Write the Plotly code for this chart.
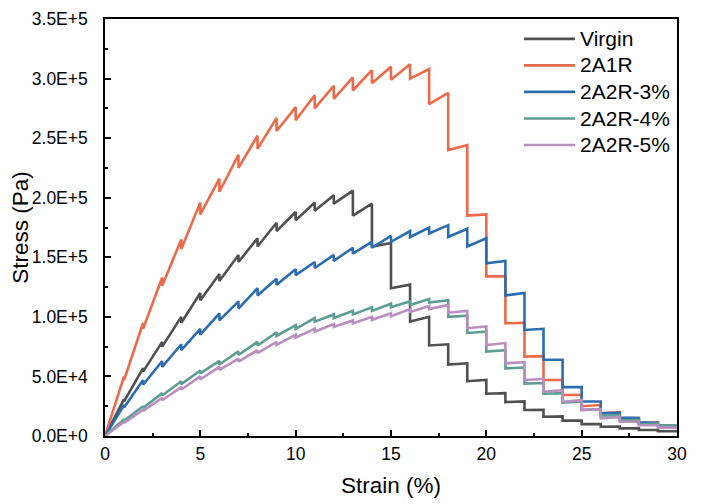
import plotly.graph_objects as go

# Strain steps (%)
strain_steps = list(range(0, 31))

# Stress (Pa): value at each step just before relaxation (peak) and after relaxation
virgin_peak = [0, 31000, 57000, 79000, 100000, 120000, 136000, 152000, 166000, 179000, 188000,
               196000, 202000, 206000, 195000, 162000, 127000, 100000, 77000, 61000, 47000,
               36000, 29000, 22000, 16500, 13000, 10000, 8000, 6500, 5000, 4000]
virgin_relax = [0, 29000, 54000, 75000, 95000, 114000, 130000, 146000, 159000, 172000, 181000,
                189000, 195000, 185000, 159000, 124000, 96000, 76000, 60000, 46000, 35500,
                28500, 21800, 16200, 12900, 10000, 7800, 6400, 5000, 4000, 3300]

r2a1r_peak = [0, 50000, 95000, 133000, 165000, 196000, 216000, 236000, 252000, 267000, 276000,
              286000, 294000, 301000, 307000, 310000, 312000, 308000, 288000, 244000, 186000,
              134000, 95000, 67000, 47000, 34500, 26000, 20000, 15000, 11500, 9000]
r2a1r_relax = [0, 47000, 90000, 126000, 157000, 186000, 205000, 225000, 241000, 256000, 265000,
               275000, 283000, 290000, 296000, 299000, 300000, 278500, 240000, 185000, 134000,
               94600, 66600, 47000, 34400, 25000, 19000, 14800, 11000, 9000, 7000]

r3_peak = [0, 26000, 47000, 63000, 77000, 90000, 103000, 113000, 124000, 132000, 140000,
           146000, 152000, 158000, 163000, 168000, 172000, 175000, 177000, 174000, 166000,
           147000, 120000, 90000, 64000, 41000, 29000, 19500, 15000, 11000, 8500]
r3_relax = [0, 24000, 43000, 58000, 72000, 85000, 97000, 107000, 118000, 127000, 135000,
            141000, 147000, 153000, 158000, 163000, 167000, 170000, 167000, 159000, 145000,
            118000, 89000, 64000, 41000, 29000, 19000, 15500, 11500, 8800, 6800]

r4_peak = [0, 14000, 25000, 36000, 46000, 55000, 63000, 71000, 79000, 87000, 93000,
           99000, 102000, 105000, 108000, 111000, 113000, 115000, 114000, 101000, 87500,
           72000, 57500, 44500, 36000, 29000, 22500, 17500, 13500, 10500, 9000]
r4_relax = [0, 13000, 23500, 34000, 43500, 52500, 60000, 68000, 76000, 84000, 90000,
            96000, 99000, 102000, 105000, 108000, 110000, 112000, 100000, 86500, 70800,
            56800, 44000, 35500, 28000, 22000, 17000, 13000, 10000, 8500, 7000]

r5_peak = [0, 12000, 22000, 32000, 41000, 50000, 58000, 65000, 72000, 79000, 85000,
           90000, 94000, 97000, 100000, 103000, 106500, 109000, 110000, 105000, 92000,
           78000, 62000, 48000, 38500, 30000, 22500, 16000, 12000, 9000, 7000]
r5_relax = [0, 11000, 21000, 30000, 39000, 47500, 55500, 62500, 69500, 76500, 82500,
            87500, 91500, 94500, 97500, 100500, 104000, 106500, 103500, 90500, 76400,
            61000, 47000, 37200, 28800, 21800, 14800, 12000, 9000, 7000, 5500]

series_names = ["Virgin", "2A1R", "2A2R-3%", "2A2R-4%", "2A2R-5%"]
series_peaks = [virgin_peak, r2a1r_peak, r3_peak, r4_peak, r5_peak]
series_relax = [virgin_relax, r2a1r_relax, r3_relax, r4_relax, r5_relax]
series_colors = ["#505050", "#ea6a4a", "#2c6db0", "#5e9d91", "#b98fc0"]

x_tick_vals = [0, 5, 10, 15, 20, 25, 30]
y_tick_vals = [0, 50000, 100000, 150000, 200000, 250000, 300000, 350000]
y_tick_text = ["0.0E+0", "5.0E+4", "1.0E+5", "1.5E+5", "2.0E+5", "2.5E+5", "3.0E+5", "3.5E+5"]

FONT = "Arial, Liberation Sans, sans-serif"

fig = go.Figure()
for name, pk, rl, col in zip(series_names, series_peaks, series_relax, series_colors):
    xs, ys = [strain_steps[0]], [pk[0]]
    for i in range(1, len(strain_steps)):
        xs += [strain_steps[i], strain_steps[i]]
        ys += [pk[i], rl[i]]
    fig.add_trace(go.Scatter(x=xs, y=ys, mode="lines",
                             name='<span style="font-size:21px">' + name + '</span>',
                             line=dict(color=col, width=2.6)))

axis_common = dict(showgrid=False, zeroline=False, showline=True, linecolor="black",
                   linewidth=1.5, mirror=True, ticks="inside", ticklen=6, tickwidth=1.5,
                   tickcolor="black", tickfont=dict(family=FONT, size=17.5, color="black"))

fig.update_xaxes(range=[0, 30], tickvals=x_tick_vals,
                 minor=dict(ticks="inside", ticklen=3.5, tickwidth=1.5, tickcolor="black", dtick=2.5, tick0=0),
                 title=dict(text="Strain (%)", font=dict(family=FONT, size=22.5, color="black"), standoff=14),
                 ticklabelstandoff=1, **axis_common)
fig.update_yaxes(range=[0, 350000], tickvals=y_tick_vals, ticktext=y_tick_text,
                 minor=dict(ticks="inside", ticklen=3.5, tickwidth=1.5, tickcolor="black", dtick=25000, tick0=0),
                 title=dict(text="Stress (Pa)", font=dict(family=FONT, size=22.5, color="black"), standoff=6),
                 ticklabelstandoff=12, **axis_common)

fig.update_layout(
    width=693, height=496,
    margin=dict(l=97, r=24, t=11, b=68, autoexpand=False),
    plot_bgcolor="white", paper_bgcolor="white",
    font=dict(family=FONT, color="black"),
    legend=dict(x=0.7238, y=0.9962, xanchor="left", yanchor="top",
                font=dict(family=FONT, size=18.1, color="black"),
                bgcolor="rgba(0,0,0,0)", itemwidth=51),
)

fig.write_html("out.html")
